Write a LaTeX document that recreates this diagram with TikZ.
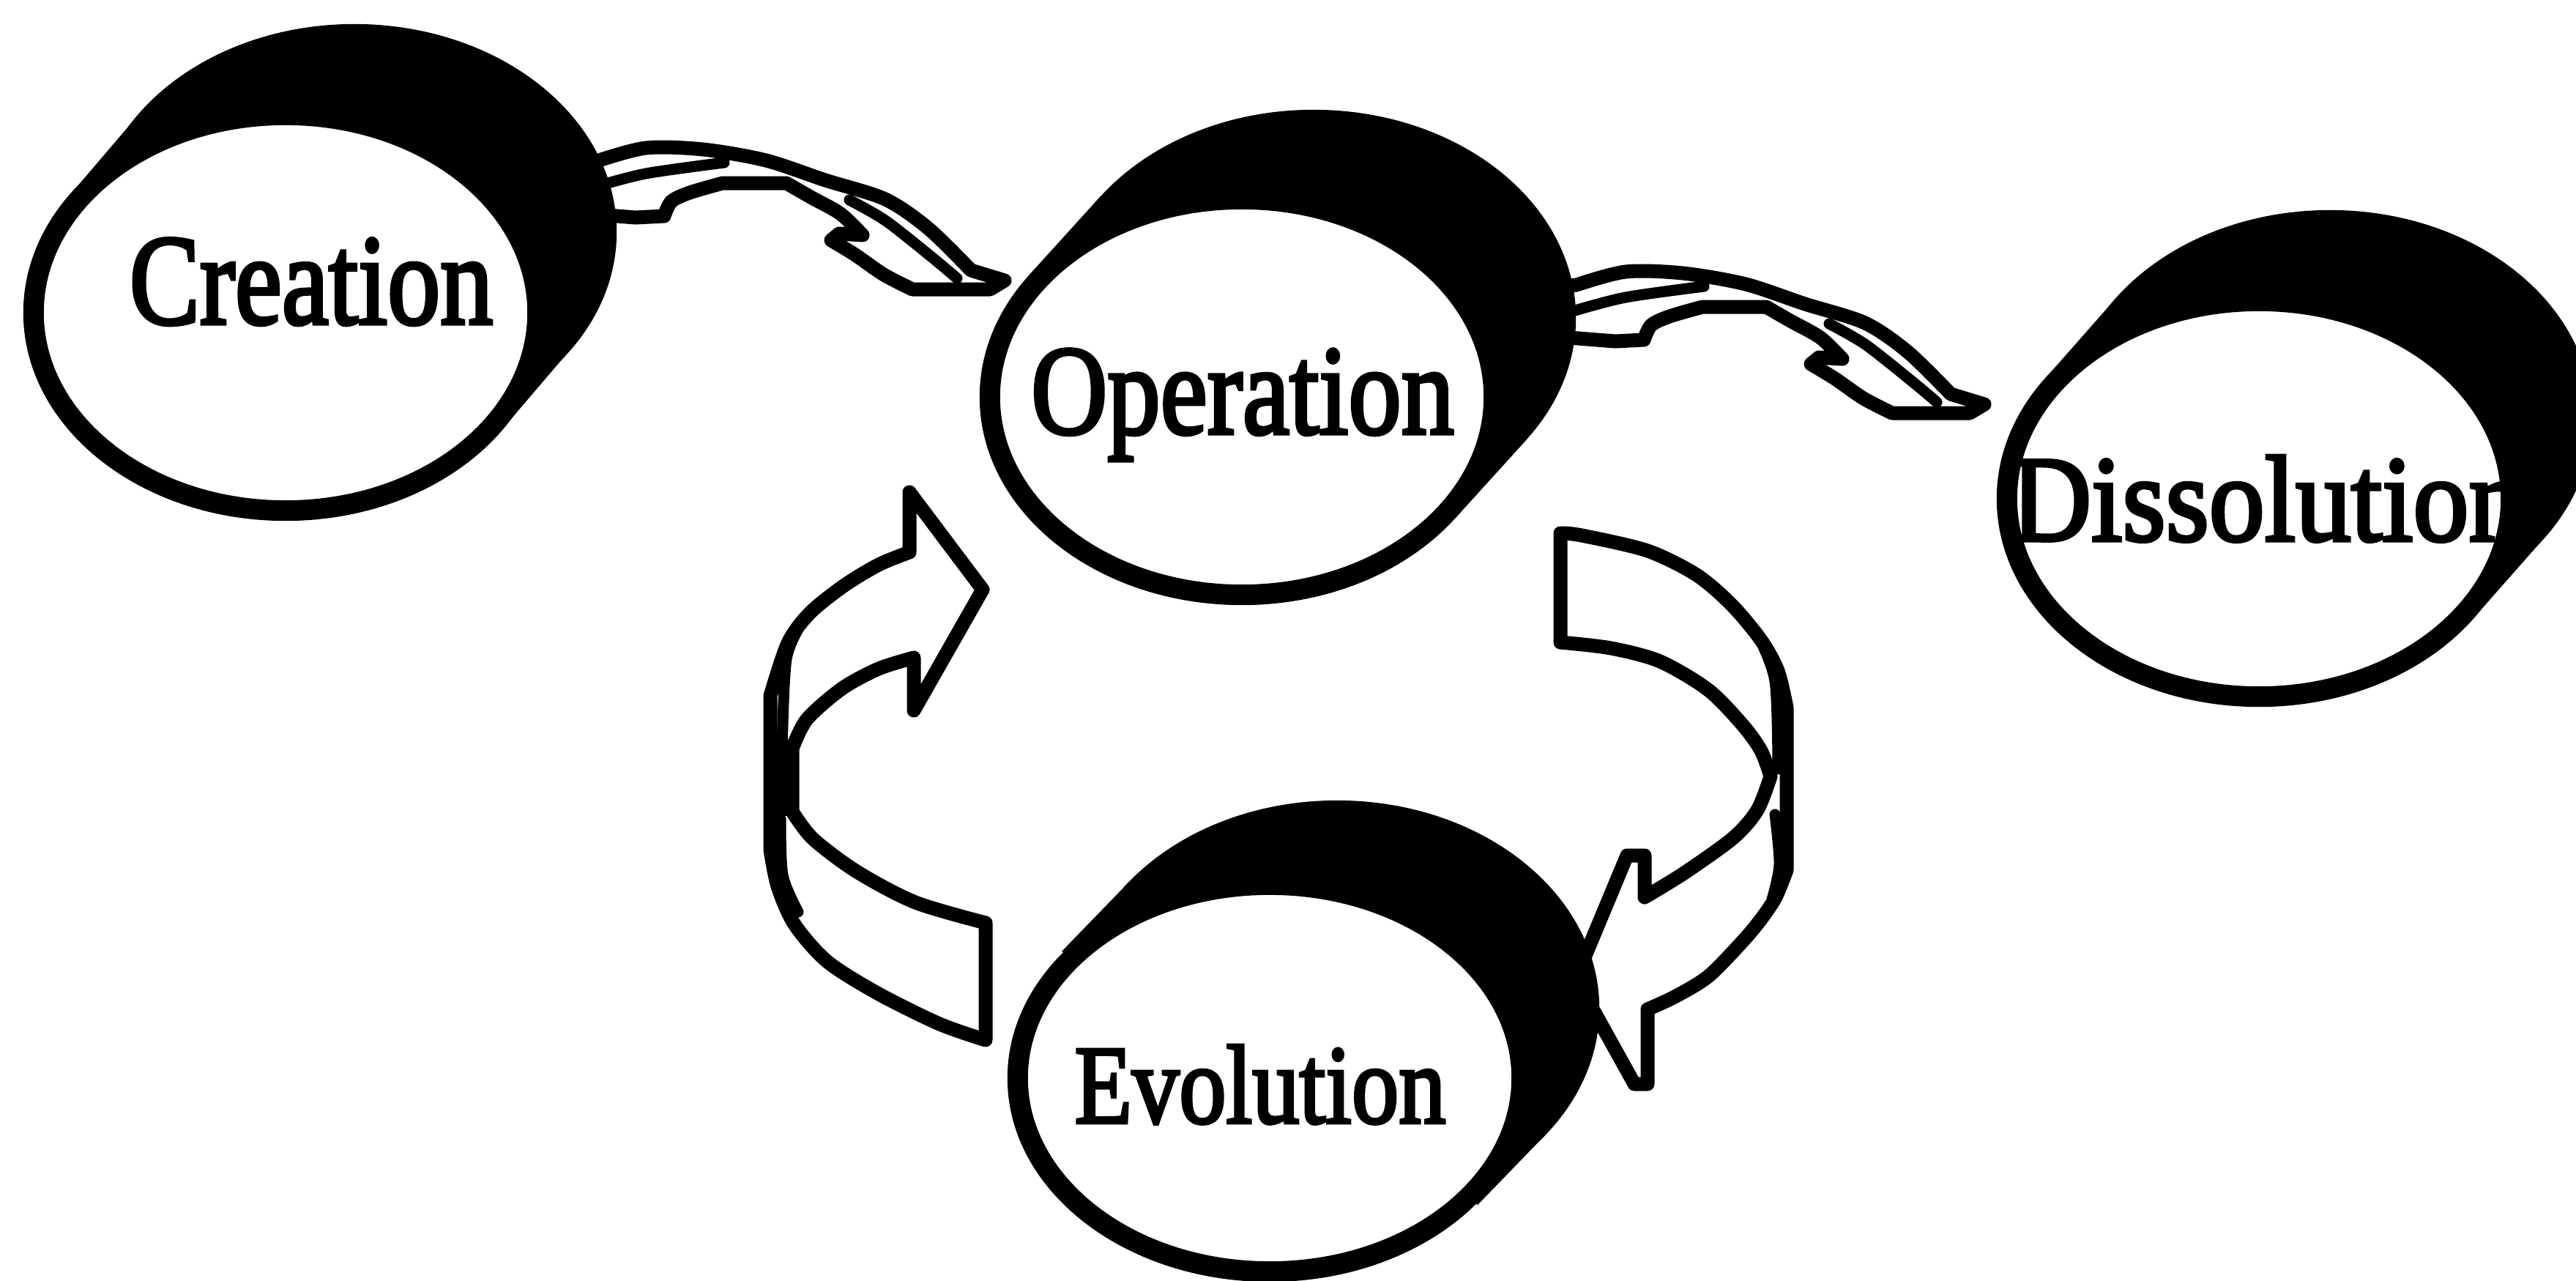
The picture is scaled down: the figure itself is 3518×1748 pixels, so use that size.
\documentclass[tikz,border=0pt]{standalone}
\usepackage{fontspec}
\setmainfont{Liberation Serif}
\newfontfamily\lblfont[FakeBold=3]{Liberation Serif}
\usepackage{graphicx}
\usetikzlibrary{shapes.geometric}
\tikzset{
  ribbon/.style={fill=white, draw=black, line width=0.19cm, line join=round},
  foldline/.style={draw=black, line width=0.15cm, line cap=round},
  disc/.style={ellipse, draw=black, fill=white, line width=0.28cm,
    minimum width=6.88cm, minimum height=5.4cm, inner sep=0pt},
  rim/.style={fill=black},
  lbl/.style={inner sep=0pt, anchor=base},
  toparrow/.pic={
    \filldraw[ribbon] (-557,-163)
      -- plot[smooth] coordinates {(-557,-163) (-490,-181) (-412,-179) (-326,-164) (-245,-137) (-163,-111) (-104,-71) (-46,-14)}
      -- (0,0) -- (-20,12) -- (-126,12)
      -- plot[smooth] coordinates {(-126,12) (-165,-8) (-204,-35) (-237,-55)}
      -- (-226,-64) -- (-194,-62)
      -- plot[smooth] coordinates {(-194,-62) (-224,-91) (-265,-114) (-298,-133)}
      -- (-385,-133)
      -- plot[smooth] coordinates {(-385,-133) (-430,-120) (-455,-108) (-465,-88)}
      -- (-504,-86) -- (-580,-92) -- (-580,-160) -- cycle;
    \draw[foldline] plot[smooth] coordinates {(-559,-128) (-490,-146) (-383,-161)};
    \draw[foldline] plot[smooth] coordinates {(-212,-110) (-163,-82) (-102,-34) (-65,-3)};
  }
}
\begin{document}
\begin{tikzpicture}[x=0.01cm, y=-0.01cm]
\useasboundingbox (0,0) rectangle (3518,1748);
\clip (0,0) rectangle (3518,1748);
\fill[white] (0,0) rectangle (3518,1748);

% centres of the discs
\coordinate (creC) at (390,427);
\coordinate (opeC) at (1696,542);
\coordinate (disC) at (3085,681);
\coordinate (evoC) at (1734,1472);

% arrow tips
\coordinate (tipA) at (1372,383);
\coordinate (tipB) at (2710,552);

% ---------- arrows (behind the discs) ----------
\pic (arrA) at (tipA) {toparrow};
\pic (arrB) at (tipB) {toparrow};

% left loop arrow: Evolution -> Operation
\filldraw[ribbon] (1346,1420)
  -- plot[smooth] coordinates {(1346,1420) (1283,1398) (1200,1357) (1130,1313) (1085,1262) (1062,1210) (1052,1160)}
  -- (1052,950)
  -- plot[smooth] coordinates {(1052,950) (1076,878) (1106,837) (1152,800) (1200,771) (1242,754)}
  -- (1242,672) -- (1342,805) -- (1248,970) -- (1248,898)
  -- plot[smooth] coordinates {(1248,898) (1200,913) (1150,940) (1102,982) (1082,1022)}
  -- (1082,1108)
  -- plot[smooth] coordinates {(1082,1108) (1110,1145) (1170,1190) (1250,1232) (1346,1260)}
  -- cycle;
\fill[black] (1045,1028) -- (1082,1022) -- (1082,1112) -- (1045,1120) -- cycle;
\draw[foldline] plot[smooth] coordinates {(1098,846) (1074,900) (1068,1030)};
\draw[foldline] plot[smooth] coordinates {(1066,1118) (1069,1195) (1090,1245)};

% right loop arrow: Operation -> Evolution
\filldraw[ribbon] (2131,728)
  -- plot[smooth] coordinates {(2131,728) (2160,731) (2250,752) (2317,785) (2365,826) (2405,874) (2428,916) (2440,966)}
  -- (2440,1188)
  -- plot[smooth] coordinates {(2440,1188) (2425,1225) (2405,1255) (2380,1285) (2333,1333) (2287,1361) (2250,1378)}
  -- (2250,1480) -- (2232,1480) -- (2152,1336) -- (2222,1168) -- (2246,1168) -- (2246,1225)
  -- plot[smooth] coordinates {(2246,1225) (2300,1192) (2367,1144) (2400,1106) (2418,1060)}
  -- plot[smooth] coordinates {(2418,1060) (2405,1025) (2380,990) (2333,942) (2267,903) (2200,885) (2131,877)}
  -- cycle;
\draw[foldline] plot[smooth] coordinates {(2400,866) (2424,930) (2428,1050)};
\draw[foldline] plot[smooth] coordinates {(2424,1112) (2430,1180) (2420,1228)};

% ---------- discs ----------
% Creation
\fill[rim] ([shift={(94,-110)}]creC) ellipse [x radius=3.58cm, y radius=2.84cm];
\fill[rim] ([shift={(296,159)}]creC) -- ([shift={(390,49)}]creC)
  -- ([shift={(-202,-269)}]creC) -- ([shift={(-296,-159)}]creC) -- cycle;
\node[disc] (cre) at (creC) {};
\node[lbl, font=\lblfont\fontsize{50}{50}\selectfont] (creT) at (425,442) {\scalebox{0.82}[1]{Creation}};

% Operation
\fill[rim] ([shift={(98,-108)}]opeC) ellipse [x radius=3.58cm, y radius=2.84cm];
\fill[rim] ([shift={(291,166)}]opeC) -- ([shift={(389,58)}]opeC)
  -- ([shift={(-193,-274)}]opeC) -- ([shift={(-291,-166)}]opeC) -- cycle;
\node[disc] (ope) at (opeC) {};
\node[lbl, font=\lblfont\fontsize{49.5}{50}\selectfont] (opeT) at (1697,592) {\scalebox{0.83}[1]{Operation}};

% Dissolution
\fill[rim] ([shift={(97,-110)}]disC) ellipse [x radius=3.58cm, y radius=2.84cm];
\fill[rim] ([shift={(293,163)}]disC) -- ([shift={(390,53)}]disC)
  -- ([shift={(-196,-273)}]disC) -- ([shift={(-293,-163)}]disC) -- cycle;
\node[disc] (dis) at (disC) {};
\node[lbl, font=\lblfont\fontsize{47.5}{50}\selectfont] (disT) at (3097,738) {\scalebox{0.91}[1]{Dissolution}};

% Evolution
\fill[rim] ([shift={(92,-95)}]evoC) ellipse [x radius=3.58cm, y radius=2.84cm];
\fill[rim] ([shift={(284,173)}]evoC) -- ([shift={(376,78)}]evoC)
  -- ([shift={(-192,-268)}]evoC) -- ([shift={(-284,-173)}]evoC) -- cycle;
\node[disc, minimum height=5.28cm] (evo) at (evoC) {};
\node[lbl, font=\lblfont\fontsize{43.5}{50}\selectfont] (evoT) at (1721,1533) {\scalebox{0.84}[1]{Evolution}};
\end{tikzpicture}
\end{document}
